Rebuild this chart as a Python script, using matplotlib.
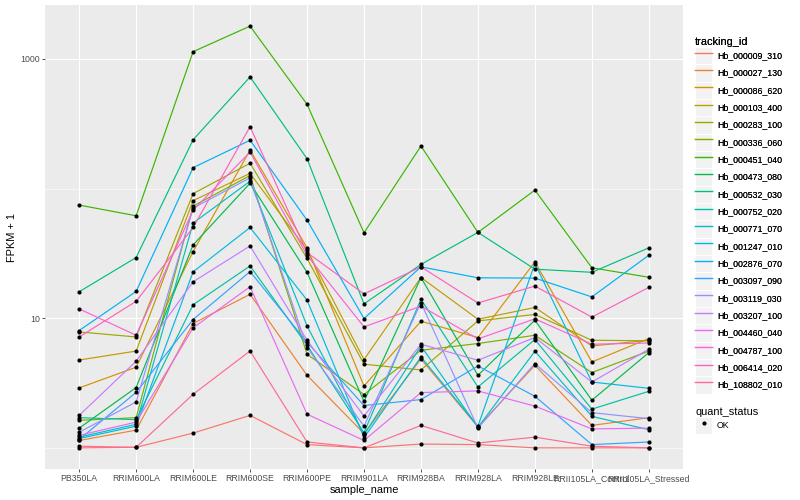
import matplotlib
matplotlib.use("Agg")
import matplotlib.pyplot as plt
from matplotlib.lines import Line2D
from matplotlib.patches import Rectangle
from matplotlib.legend_handler import HandlerLine2D

plt.rcParams['font.family'] = ['Liberation Sans', 'DejaVu Sans']

samples = ["PB350LA", "RRIM600LA", "RRIM600LE", "RRIM600SE", "RRIM600PE",
           "RRIM901LA", "RRIM928BA", "RRIM928LA", "RRIM928LE",
           "RRII105LA_Control", "RRII105LA_Stressed"]

tracking_ids = ["Hb_000009_310", "Hb_000027_130", "Hb_000086_620", "Hb_000103_400",
                "Hb_000283_100", "Hb_000336_060", "Hb_000451_040", "Hb_000473_080",
                "Hb_000532_030", "Hb_000752_020", "Hb_000771_070", "Hb_001247_010",
                "Hb_002876_070", "Hb_003097_090", "Hb_003119_030", "Hb_003207_100",
                "Hb_004460_040", "Hb_004787_100", "Hb_006414_020", "Hb_108802_010"]

# FPKM + 1 per sample
hb_000009_310 = [1.00, 1.01, 1.30, 1.78, 1.06, 1.00, 1.07, 1.06, 1.00, 1.00, 1.00]
hb_000027_130 = [1.14, 1.37, 9.10, 15.3, 3.63, 1.29, 4.85, 1.45, 4.34, 1.49, 1.71]
hb_000086_620 = [2.90, 4.19, 32.7, 198, 34.9, 3.00, 9.48, 7.10, 27.2, 4.60, 6.97]
hb_000103_400 = [4.76, 5.58, 80.7, 131, 33.5, 4.80, 20.6, 9.82, 12.1, 6.11, 6.76]
hb_000283_100 = [7.84, 7.17, 91.4, 157, 28.9, 4.42, 3.99, 9.53, 10.7, 6.76, 6.70]
hb_000336_060 = [1.63, 1.71, 73.3, 126, 5.27, 2.58, 5.66, 6.38, 7.39, 3.81, 5.58]
hb_000451_040 = [74.6, 61.7, 1138, 1790, 447, 45.6, 213, 45.9, 97.3, 24.5, 20.7]
hb_000473_080 = [1.42, 2.92, 36.8, 110, 22.6, 2.28, 20.6, 3.63, 9.66, 2.33, 5.43]
hb_000532_030 = [16.0, 29.4, 238, 726, 170, 12.9, 26.0, 45.9, 23.9, 22.6, 34.9]
hb_000752_020 = [1.71, 1.65, 12.7, 25.3, 6.19, 1.31, 14.0, 2.95, 6.85, 1.99, 2.73]
hb_000771_070 = [1.21, 1.52, 54.2, 114, 8.72, 1.26, 6.11, 1.44, 5.56, 1.75, 1.38]
hb_001247_010 = [1.18, 1.47, 22.8, 50.1, 13.8, 1.20, 5.02, 1.47, 26.4, 3.22, 2.88]
hb_002876_070 = [8.04, 16.1, 145, 236, 57.1, 9.95, 24.9, 20.5, 20.4, 14.6, 30.6]
hb_003097_090 = [1.16, 2.68, 9.77, 22.9, 6.53, 2.12, 2.36, 4.28, 2.50, 1.06, 1.11]
hb_003119_030 = [1.32, 2.26, 70.7, 121, 5.94, 1.47, 13.2, 1.42, 4.47, 1.87, 1.68]
hb_003207_100 = [1.78, 4.66, 19.1, 36.1, 6.76, 1.76, 6.30, 4.74, 7.10, 3.22, 5.77]
hb_004460_040 = [1.25, 1.58, 8.42, 17.5, 1.82, 1.14, 2.67, 2.75, 2.10, 1.40, 1.42]
hb_004787_100 = [11.8, 7.39, 68.2, 191, 30.6, 8.57, 12.4, 6.92, 9.89, 6.30, 6.44]
hb_006414_020 = [7.17, 13.5, 50.1, 300, 32.1, 15.4, 24.9, 13.1, 17.7, 10.2, 17.3]
hb_108802_010 = [1.03, 1.01, 2.59, 5.59, 1.11, 1.00, 1.49, 1.09, 1.21, 1.03, 1.00]

series = [hb_000009_310, hb_000027_130, hb_000086_620, hb_000103_400, hb_000283_100,
          hb_000336_060, hb_000451_040, hb_000473_080, hb_000532_030, hb_000752_020,
          hb_000771_070, hb_001247_010, hb_002876_070, hb_003097_090, hb_003119_030,
          hb_003207_100, hb_004460_040, hb_004787_100, hb_006414_020, hb_108802_010]

colors = ["#F8766D", "#EA8331", "#D89000", "#C09B00", "#A3A500", "#7CAE00", "#39B600",
          "#00BB4E", "#00BF7D", "#00C1A3", "#00BFC4", "#00BAE0", "#00B0F6", "#35A2FF",
          "#9590FF", "#C77CFF", "#E76BF3", "#FA62DB", "#FF62BC", "#FF6C91"]

fig = plt.figure(figsize=(8, 5), dpi=100)
ax = fig.add_axes([45 / 800, 1 - 469 / 500, (683 - 45) / 800, (469 - 5) / 500])
ax.set_facecolor("#EBEBEB")
for s in ax.spines.values():
    s.set_visible(False)

handles = []
for vals, col, name in zip(series, colors, tracking_ids):
    ax.plot(samples, vals, color=col, lw=0.85, zorder=2, solid_capstyle='butt')
    handles.append(Line2D([], [], color=col, lw=1.0, label=name))
for vals in series:
    ax.plot(samples, vals, ls='none', marker='o', ms=3.0, mew=0, color='black', zorder=3)

ax.set_yscale('log')
ax.set_ylim(10 ** -0.163, 10 ** 3.416)
ax.set_xlim(-0.6, len(samples) - 1 + 0.6)
ax.set_yticks([10, 1000])
ax.set_yticklabels(["10", "1000"])
ax.set_yticks([1, 100], minor=True)
ax.yaxis.set_minor_formatter(matplotlib.ticker.NullFormatter())
ax.grid(True, which='major', color='white', lw=0.8, zorder=0)
ax.grid(True, which='minor', axis='y', color='white', lw=0.4, zorder=0)
ax.set_axisbelow(True)
ax.tick_params(axis='both', which='major', length=2.2, width=0.6, color='#333333',
               labelcolor='#4D4D4D', labelsize=6.3, pad=1.5)
ax.tick_params(axis='y', which='minor', length=0)
ax.set_xlabel("sample_name", fontsize=7.9, color='black', labelpad=1.5)
ax.set_ylabel("FPKM + 1", fontsize=7.9, color='black', labelpad=2)


class KeyHandler(HandlerLine2D):
    def create_artists(self, legend, orig_handle, xdescent, ydescent, width, height,
                       fontsize, trans):
        rect = Rectangle((-xdescent, -ydescent), width, height, facecolor='#F2F2F2',
                         edgecolor='white', lw=0.8, transform=trans)
        arts = super().create_artists(legend, orig_handle, xdescent, ydescent, width,
                                      height, fontsize, trans)
        return [rect] + list(arts)


common = dict(loc='upper left', frameon=False, fontsize=6.3, title_fontsize=7.9,
              handlelength=1.95, handleheight=2.67, labelspacing=0.0,
              handletextpad=0.55, borderpad=0, borderaxespad=0, alignment='left',
              handler_map={Line2D: KeyHandler()})

leg1 = fig.legend(handles=handles, title="tracking_id",
                  bbox_to_anchor=(695 / 800, 1 - 37 / 500), **common)
fig.add_artist(leg1)

ok_handle = Line2D([], [], ls='none', marker='o', ms=3.0, mew=0, color='black', label='OK')
leg2 = fig.legend(handles=[ok_handle], title="quant_status",
                  bbox_to_anchor=(695 / 800, 1 - 407 / 500), **common)

fig.savefig("out.png", dpi=100)
